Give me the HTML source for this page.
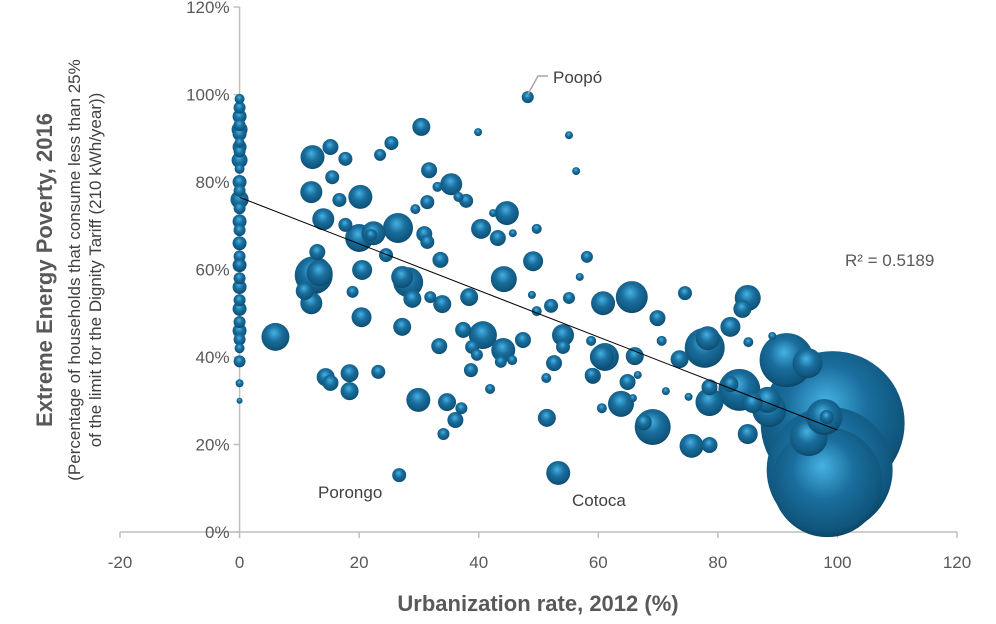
<!DOCTYPE html>
<html><head><meta charset="utf-8">
<style>
body{margin:0;background:#fff;}
svg{display:block;font-family:"Liberation Sans",Arial,sans-serif;}
</style></head>
<body>
<svg id="chart" width="996" height="624" viewBox="0 0 996 624" xmlns="http://www.w3.org/2000/svg">
<defs>
<radialGradient id="ball" cx="48%" cy="42%" r="62%" fx="45%" fy="35%">
<stop offset="0" stop-color="#45b2e4"/>
<stop offset="0.45" stop-color="#1a6e9d"/>
<stop offset="0.85" stop-color="#0f557c"/>
<stop offset="1" stop-color="#0a3b57"/>
</radialGradient>
</defs>
<g id="axes"></g>
<g id="bubbles"></g>
<g id="labels"></g>
</svg>
<script>
// x = urbanization rate (%), y = extreme energy poverty (%), z = bubble size
const xVals=[48.2,30.4,39.9,55.1,15.2,12.2,17.7,25.4,23.5,56.3,31.7,15.5,35.4,33.1,12.0,16.7,20.2,37.9,36.6,31.4,29.4,44.7,42.4,14.0,17.7,20.0,22.4,26.5,22.0,30.9,31.4,40.4,43.2,45.7,49.7,24.5,13.0,33.6,49.1,58.1,12.4,13.4,20.5,27.2,28.2,44.2,56.9,10.9,18.9,12.0,28.9,31.9,33.9,38.4,48.9,52.1,55.1,60.8,49.7,20.4,27.2,6.0,37.4,40.7,38.9,44.1,47.4,45.6,43.7,39.7,54.1,58.8,60.6,33.4,52.6,38.7,14.4,18.4,23.2,51.3,58.9,65.6,74.5,85.0,84.1,69.9,82.1,54.1,70.6,85.1,89.1,77.8,78.3,73.6,61.1,66.1,59.1,64.9,66.6,91.5,95.0,78.6,78.6,83.6,82.1,85.8,88.6,88.3,71.3,75.1,60.6,63.8,65.8,51.4,69.1,67.6,75.6,78.6,85.0,98.7,98.3,99.2,97.8,98.2,95.2,53.3,26.7,29.9,34.7,36.1,37.1,41.9,18.4,15.2,34.1,
0,0,0,0,0,0,0,0,0,0,0,0,0,0,0,0,0,0,0,0,0,0,0,0,0,0,0,0,0,0,0,0,0];
const yVals=[99.4,92.6,91.4,90.7,88.0,85.7,85.3,88.9,86.2,82.5,82.7,81.1,79.5,78.9,77.7,75.9,76.6,75.7,76.6,75.4,73.8,72.9,72.9,71.5,70.2,67.2,68.3,69.5,67.9,68.1,66.3,69.3,67.2,68.3,69.3,63.3,64.0,62.2,61.9,62.9,58.7,59.2,59.9,58.3,57.1,57.8,58.3,55.1,54.9,52.3,53.3,53.7,52.1,53.7,54.2,51.7,53.5,52.3,50.5,49.1,46.9,44.6,46.2,45.0,42.3,41.6,43.9,39.3,38.9,40.5,45.0,43.7,40.0,42.5,38.6,37.0,35.4,36.3,36.6,35.2,35.9,53.7,54.6,53.5,51.0,48.9,46.9,42.3,43.7,43.4,44.8,42.1,44.3,39.5,40.0,40.2,35.7,34.3,35.9,39.3,38.6,33.1,29.7,32.5,33.8,29.5,27.9,30.2,32.2,30.9,28.3,29.3,30.6,26.1,24.0,25.1,19.7,19.9,22.4,14.2,11.4,24.9,26.3,26.3,21.7,13.5,13.0,30.2,29.7,25.6,28.3,32.7,32.2,34.1,22.4,
99,97,95,93,91,89,87,85,83,80,78,76,74,71,69,66,63,61,58,56,53,51,48,46,44,42,39,34,30,92,88,61,76];
const zVals=[36,81,16,16,64,144,49,49,36,16,64,49,121,25,121,49,144,49,25,49,25,144,16,121,49,196,144,225,36,64,49,100,64,16,25,49,64,64,100,36,361,169,100,121,225,169,16,81,36,121,81,36,81,81,16,49,36,144,25,100,81,196,64,196,49,144,64,25,36,36,121,25,144,64,64,49,81,81,49,25,49,256,49,169,81,64,100,49,25,25,16,400,144,81,196,81,64,64,16,729,225,64,196,441,64,100,289,169,16,16,25,169,16,81,324,64,144,64,100,3969,3025,5184,324,49,361,144,49,144,81,64,36,25,81,64,36,
25,36,49,36,49,25,36,64,25,49,36,81,36,49,36,49,36,49,36,49,36,49,36,49,36,25,36,16,9,64,49,36,81];
const xTicks=[-20,0,20,40,60,80,100,120];
const yTicks=[0,20,40,60,80,100,120];
const trendline=[76.5,-0.532]; // intercept, slope (R² = 0.5189)

const NS="http://www.w3.org/2000/svg";
const X0=120,X1=957,Y0=532,Y1=7;
const sx=v=>X0+(v+20)/140*(X1-X0);
const sy=v=>Y0-v/120*(Y0-Y1);
const rz=z=>Math.sqrt(z);
function mk(tag,attrs,parent,text){const e=document.createElementNS(NS,tag);for(const k in attrs)e.setAttribute(k,attrs[k]);if(text!==undefined)e.textContent=text;parent.appendChild(e);return e;}
const axes=document.getElementById('axes'),bub=document.getElementById('bubbles'),lab=document.getElementById('labels');

let xl=mk('line',{x1:X0,y1:Y0,x2:X1,y2:Y0,stroke:'#bfbfbf','stroke-width':1.5},axes);


let yl=mk('line',{x1:sx(0),y1:Y1,x2:sx(0),y2:Y0,stroke:'#bfbfbf','stroke-width':1.5},axes);


xTicks.forEach(t=>{
  mk('line',{x1:sx(t),y1:Y0,x2:sx(t),y2:Y0+6,stroke:'#bfbfbf','stroke-width':1.5},axes);
  const tx=mk('text',{x:sx(t),y:568,'text-anchor':'middle','font-size':17,fill:'#595959'},axes,String(t));
  
  
});
yTicks.forEach(t=>{
  mk('line',{x1:sx(0)-6,y1:sy(t),x2:sx(0),y2:sy(t),stroke:'#bfbfbf','stroke-width':1.5},axes);
  const tx=mk('text',{x:sx(0)-10,y:sy(t)+6,'text-anchor':'end','font-size':17,fill:'#595959'},axes,t+'%');
  
  
});

const idx=xVals.map((_,i)=>i).sort((a,b)=>zVals[b]-zVals[a]);
idx.forEach(i=>{
  const c=mk('circle',{cx:sx(xVals[i]),cy:sy(yVals[i]),r:rz(zVals[i]),fill:'url(#ball)'},bub);
  
  
});

const tl=mk('line',{x1:sx(0),y1:sy(trendline[0]),x2:sx(100),y2:sy(trendline[0]+trendline[1]*100),stroke:'#000','stroke-width':1},bub);



const ld=mk('polyline',{points:'528,94 538,76 548,76',fill:'none',stroke:'#a6a6a6','stroke-width':1.5},lab);


function txt(x,y,s,name,extra){const e=mk('text',Object.assign({x:x,y:y,'font-size':17,fill:'#404040'},extra||{}),lab,s);return e;}
txt(553,83,'Poopó','poopo-label');
txt(318,498,'Porongo','porongo-label');
txt(572,506,'Cotoca','cotoca-label');
txt(845,266,'R² = 0.5189','r-squared-label',{fill:'#595959'});
txt(538,611,'Urbanization rate, 2012 (%)','x-axis-title',{'text-anchor':'middle','font-size':22,'font-weight':'bold',fill:'#595959'});
txt(0,0,'Extreme Energy Poverty, 2016','y-axis-title',{transform:'translate(52,270) rotate(-90)','text-anchor':'middle','font-size':22,'font-weight':'bold',fill:'#595959'});
txt(0,0,'(Percentage of households that consume less than 25%','y-axis-subtitle-1',{transform:'translate(80,270) rotate(-90)','text-anchor':'middle','font-size':17,fill:'#404040'});
txt(0,0,'of the limit for the Dignity Tariff (210 kWh/year))','y-axis-subtitle-2',{transform:'translate(101,270) rotate(-90)','text-anchor':'middle','font-size':17,fill:'#404040'});
</script>
</body></html>
